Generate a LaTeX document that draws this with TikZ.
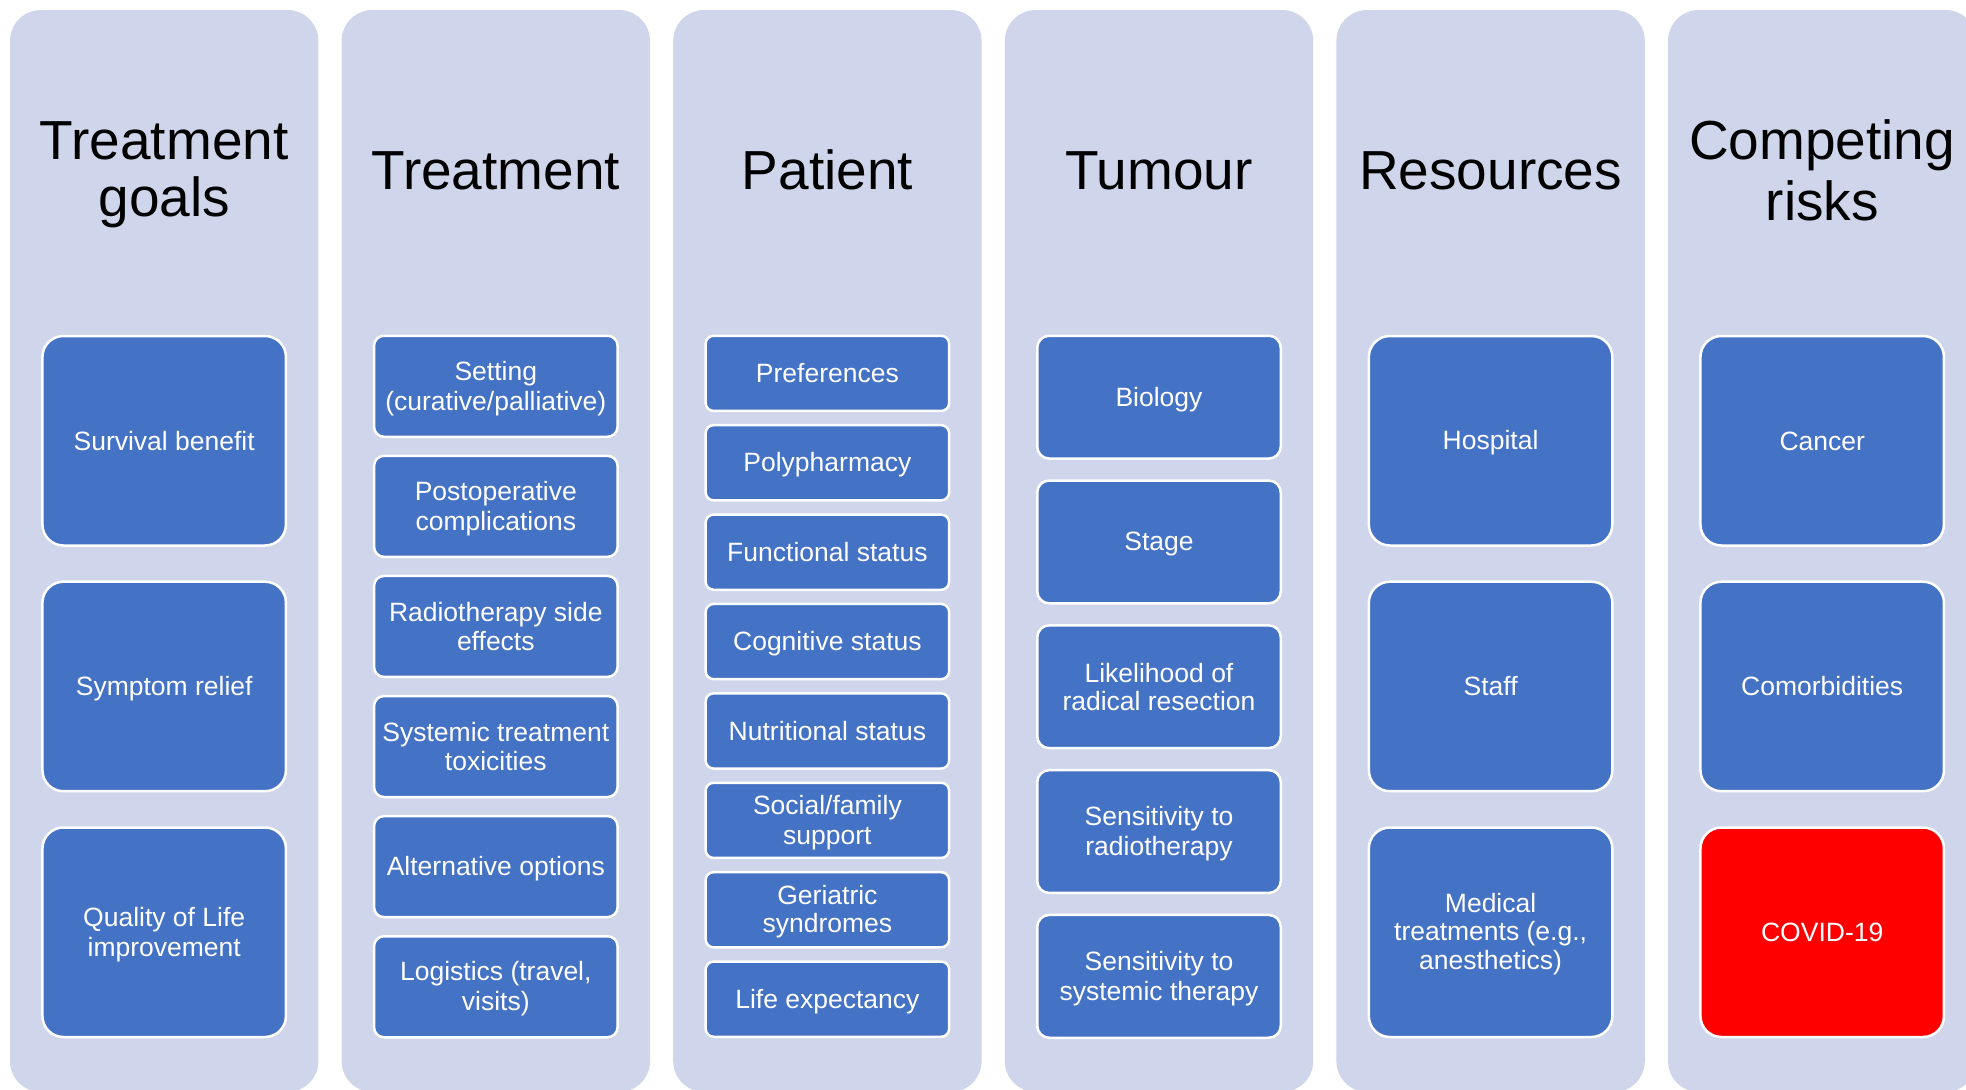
\documentclass[tikz,border=0pt]{standalone}
\usepackage{fontspec}
\setmainfont{Liberation Sans}
\definecolor{colbg}{HTML}{CFD5EA}
\definecolor{boxblue}{HTML}{4472C4}
\definecolor{boxred}{HTML}{FF0000}
\newcommand\bxs{\rule[-4.25pt]{0pt}{27.5pt}}
\newcommand\hds{\rule[-8.8pt]{0pt}{57pt}}
\tikzset{
 colpanel/.style={fill=colbg, draw=none, rounded corners=31pt, minimum width=308.4pt, minimum height=1082pt, inner sep=0pt},
 headtxt/.style={inner sep=0pt, align=center, font=\fontsize{55}{57}\selectfont, text=black},
 itembox/.style={fill=boxblue, draw=white, line width=2.5pt, text=white, align=center, inner sep=0pt, minimum width=243.5pt, font=\fontsize{26.5}{27.5}\selectfont},
 itembig/.style={itembox, minimum height=209.5pt, rounded corners=21pt},
 itemmid/.style={itembox, minimum height=101pt, rounded corners=10pt},
 itemsmall/.style={itembox, minimum height=75.2pt, rounded corners=8pt},
 itemtall/.style={itembox, minimum height=122.8pt, rounded corners=12pt},
}
\begin{document}
\begin{tikzpicture}[x=1pt,y=-1pt]
\useasboundingbox (0,0) rectangle (1966,1090);
\fill[white] (0,0) rectangle (1966,1090);
\clip (0,0) rectangle (1966,1090);
% columns
\node[colpanel] (c1) at (164.2,551) {};
\node[colpanel] (c2) at (495.8,551) {};
\node[colpanel] (c3) at (827.4,551) {};
\node[colpanel] (c4) at (1159.0,551) {};
\node[colpanel] (c5) at (1490.6,551) {};
\node[colpanel] (c6) at (1822.2,551) {};
% headings
\node[headtxt] (h1) at (164.2,170) {\hds Treatment\\\hds goals};
\node[headtxt] (h2) at (495.8,170) {\hds Treatment};
\node[headtxt] (h3) at (827.4,170) {\hds Patient};
\node[headtxt] (h4) at (1159.0,170) {\hds Tumour};
\node[headtxt] (h5) at (1490.6,170) {\hds Resources};
\node[headtxt] (h6) at (1822.2,170) {\hds Competing\\\hds risks};
% column 1
\node[itembig] (g1) at (164.2,440.75) {\bxs Survival benefit};
\node[itembig] (g2) at (164.2,686.45) {\bxs Symptom relief};
\node[itembig] (g3) at (164.2,932.25) {\bxs Quality of Life\\\bxs improvement};
% column 2
\node[itemmid] (t1) at (495.8,386.25) {\bxs Setting\\\bxs (curative/palliative)};
\node[itemmid] (t2) at (495.8,506.35) {\bxs Postoperative\\\bxs complications};
\node[itemmid] (t3) at (495.8,626.45) {\bxs Radiotherapy side\\\bxs effects};
\node[itemmid] (t4) at (495.8,746.55) {\bxs Systemic treatment\\\bxs toxicities};
\node[itemmid] (t5) at (495.8,866.65) {\bxs Alternative options};
\node[itemmid] (t6) at (495.8,986.75) {\bxs Logistics (travel,\\\bxs visits)};
% column 3
\node[itemsmall] (p1) at (827.4,373.35) {\bxs Preferences};
\node[itemsmall] (p2) at (827.4,462.75) {\bxs Polypharmacy};
\node[itemsmall] (p3) at (827.4,552.15) {\bxs Functional status};
\node[itemsmall] (p4) at (827.4,641.55) {\bxs Cognitive status};
\node[itemsmall] (p5) at (827.4,730.95) {\bxs Nutritional status};
\node[itemsmall] (p6) at (827.4,820.35) {\bxs Social/family\\\bxs support};
\node[itemsmall] (p7) at (827.4,909.75) {\bxs Geriatric\\\bxs syndromes};
\node[itemsmall] (p8) at (827.4,999.15) {\bxs Life expectancy};
% column 4
\node[itemtall] (u1) at (1159.0,397.15) {\bxs Biology};
\node[itemtall] (u2) at (1159.0,541.95) {\bxs Stage};
\node[itemtall] (u3) at (1159.0,686.75) {\bxs Likelihood of\\\bxs radical resection};
\node[itemtall] (u4) at (1159.0,831.55) {\bxs Sensitivity to\\\bxs radiotherapy};
\node[itemtall] (u5) at (1159.0,976.35) {\bxs Sensitivity to\\\bxs systemic therapy};
% column 5
\node[itembig] (r1) at (1490.6,440.75) {\bxs Hospital};
\node[itembig] (r2) at (1490.6,686.45) {\bxs Staff};
\node[itembig] (r3) at (1490.6,932.25) {\bxs Medical\\\bxs treatments (e.g.,\\\bxs anesthetics)};
% column 6
\node[itembig] (k1) at (1822.2,440.75) {\bxs Cancer};
\node[itembig] (k2) at (1822.2,686.45) {\bxs Comorbidities};
\node[itembig, fill=boxred] (k3) at (1822.2,932.25) {\bxs COVID-19};
\end{tikzpicture}
\end{document}
